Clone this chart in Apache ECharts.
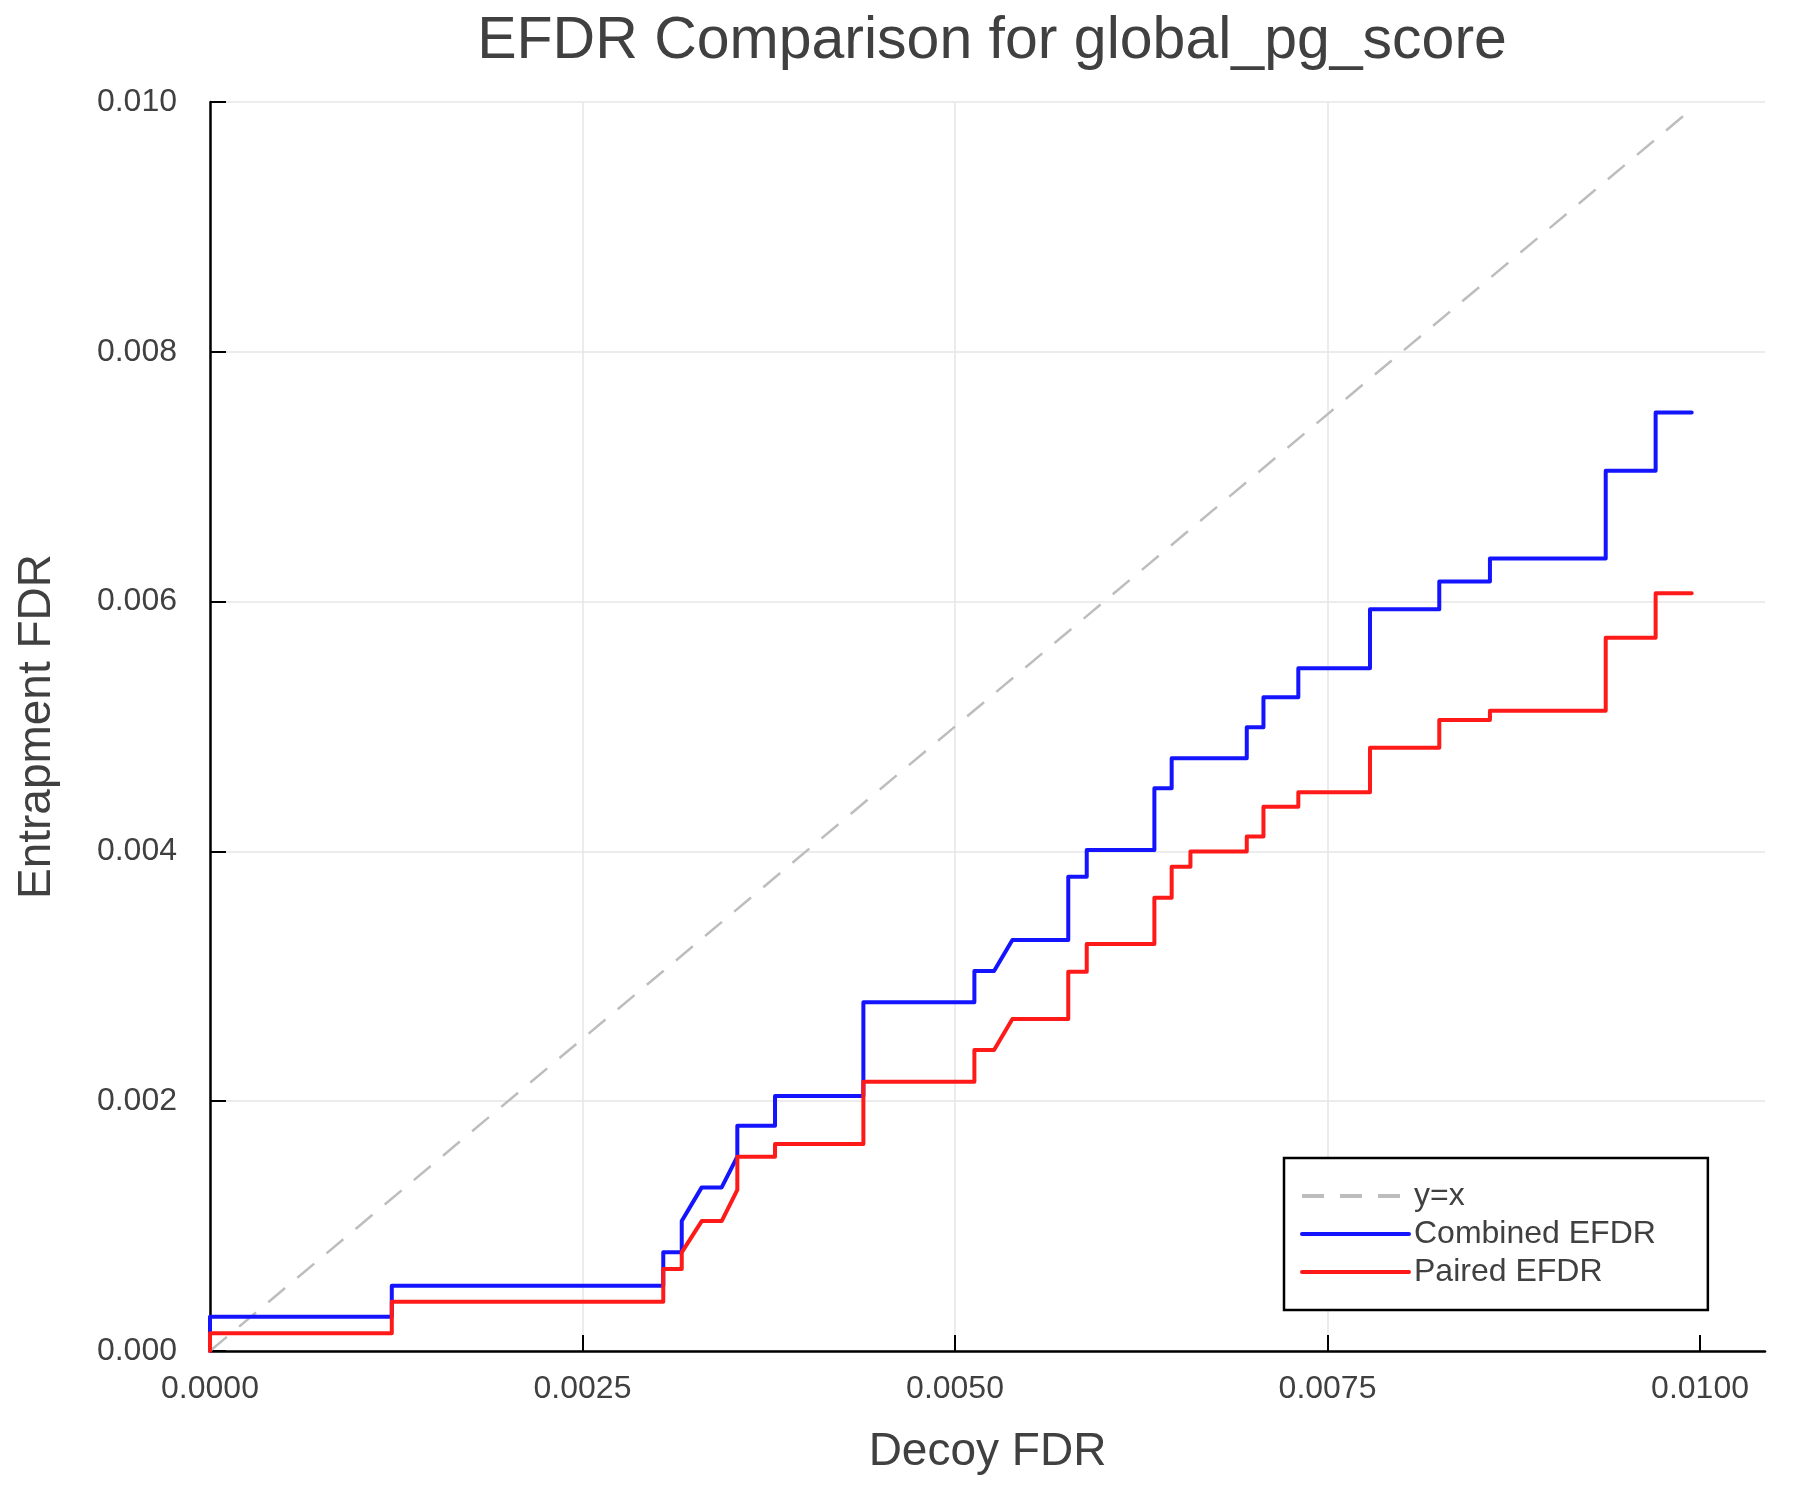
<!DOCTYPE html>
<html>
<head>
<meta charset="utf-8">
<title>EFDR Comparison</title>
<script src="https://cdn.jsdelivr.net/npm/echarts@6/dist/echarts.min.js"></script>
<style>
  html, body { margin: 0; padding: 0; background: #fff; }
  #chart { width: 1800px; height: 1500px; }
</style>
</head>
<body>
<div id="chart"></div>
<script>
// vertices of each curve
var diagX = [0, 0.009944];
var diagY = [0, 0.009944];

var combinedX = [0, 0, 0.00122, 0.00122, 0.003042, 0.003042, 0.003166, 0.003166, 0.0033, 0.003434,
    0.003539, 0.003539, 0.003792, 0.003792, 0.004385, 0.004385, 0.00513, 0.00513, 0.005262, 0.005385,
    0.00576, 0.00576, 0.005884, 0.005884, 0.006338, 0.006338, 0.006454, 0.006454, 0.006958, 0.006958,
    0.00707, 0.00707, 0.007304, 0.007304, 0.007785, 0.007785, 0.00825, 0.00825, 0.00859, 0.00859,
    0.009367, 0.009367, 0.009702, 0.009702, 0.009944];
var combinedY = [0, 0.000275, 0.000275, 0.000523, 0.000523, 0.00079, 0.00079, 0.00104, 0.00131, 0.00131,
    0.001556, 0.001804, 0.001804, 0.002042, 0.002042, 0.002792, 0.002792, 0.003042, 0.003042, 0.00329,
    0.00329, 0.003797, 0.003797, 0.004011, 0.004011, 0.004505, 0.004505, 0.004745, 0.004745, 0.004993,
    0.004993, 0.005234, 0.005234, 0.005466, 0.005466, 0.005938, 0.005938, 0.00616, 0.00616, 0.006346,
    0.006346, 0.007048, 0.007048, 0.007515, 0.007515];

var pairedX = [0, 0, 0.00122, 0.00122, 0.003042, 0.003042, 0.003166, 0.003166, 0.0033, 0.003434,
    0.003539, 0.003539, 0.003792, 0.003792, 0.004385, 0.004385, 0.00513, 0.00513, 0.005262, 0.005385,
    0.00576, 0.00576, 0.005884, 0.005884, 0.006338, 0.006338, 0.006454, 0.006454, 0.00658, 0.00658,
    0.006958, 0.006958, 0.00707, 0.00707, 0.007304, 0.007304, 0.007785, 0.007785, 0.00825, 0.00825,
    0.00859, 0.00859, 0.009367, 0.009367, 0.009702, 0.009702, 0.009944];
var pairedY = [0, 0.000142, 0.000142, 0.000395, 0.000395, 0.000656, 0.000656, 0.00079, 0.00104, 0.00104,
    0.00129, 0.001556, 0.001556, 0.001657, 0.001657, 0.002156, 0.002156, 0.00241, 0.00241, 0.002658,
    0.002658, 0.003037, 0.003037, 0.003259, 0.003259, 0.003628, 0.003628, 0.003878, 0.003878, 0.004,
    0.004, 0.00412, 0.00412, 0.004358, 0.004358, 0.004473, 0.004473, 0.00483, 0.00483, 0.005052,
    0.005052, 0.005127, 0.005127, 0.005711, 0.005711, 0.006066, 0.006066];

var xTicks = [0, 0.0025, 0.005, 0.0075, 0.01];

function pairUp(xs, ys) {
    var out = [];
    for (var i = 0; i < xs.length; i++) out.push([xs[i], ys[i]]);
    return out;
}

var textColor = '#404040';
var fontName = 'Liberation Sans';

var chart = echarts.init(document.getElementById('chart'), null, {renderer: 'canvas'});

var option = {
    backgroundColor: '#fff',
    animation: false,
    title: {
        text: 'EFDR Comparison for global_pg_score',
        left: 987,
        top: 7,
        textAlign: 'center',
        textStyle: {fontFamily: fontName, fontSize: 59, fontWeight: 'normal', color: textColor}
    },
    grid: {left: 210, right: 35, top: 102, bottom: 149, containLabel: false},
    legend: {
        orient: 'vertical',
        left: 1284,
        top: 1158,
        padding: [21, 52, 21, 16],
        itemWidth: 107,
        itemHeight: 14,
        itemGap: 4,
        borderColor: '#000',
        borderWidth: 2.5,
        backgroundColor: '#fff',
        itemStyle: {opacity: 0},
        lineStyle: {width: 4},
        textStyle: {fontFamily: fontName, fontSize: 32, lineHeight: 34, color: textColor},
        data: ['y=x', 'Combined EFDR', 'Paired EFDR']
    },
    xAxis: {
        type: 'value',
        min: 0,
        max: 0.010436,
        interval: 0.0025,
        name: 'Decoy FDR',
        nameLocation: 'middle',
        nameGap: 78,
        nameTextStyle: {fontFamily: fontName, fontSize: 46, color: textColor},
        axisLine: {show: true, onZero: false, lineStyle: {color: '#000', width: 2.5}},
        axisTick: {show: true, inside: true, length: 16, customValues: xTicks, lineStyle: {color: '#000', width: 2}},
        axisLabel: {
            customValues: xTicks,
            margin: 22,
            fontFamily: fontName, fontSize: 32, color: textColor,
            formatter: function (v) { return v.toFixed(4); }
        },
        splitLine: {show: true, showMaxLine: false, lineStyle: {color: '#e6e6e6', width: 1.5}}
    },
    yAxis: {
        type: 'value',
        min: 0,
        max: 0.01,
        interval: 0.002,
        name: 'Entrapment FDR',
        nameLocation: 'middle',
        nameGap: 150,
        nameTextStyle: {fontFamily: fontName, fontSize: 46, color: textColor},
        axisLine: {show: true, onZero: false, lineStyle: {color: '#000', width: 2.5}},
        axisTick: {show: true, inside: true, length: 16, lineStyle: {color: '#000', width: 2}},
        axisLabel: {
            margin: 33,
            fontFamily: fontName, fontSize: 32, color: textColor,
            formatter: function (v) { return v.toFixed(3); }
        },
        splitLine: {show: true, lineStyle: {color: '#e6e6e6', width: 1.5}}
    },
    series: [
        {
            name: 'y=x',
            type: 'line',
            symbol: 'none',
            color: '#bdbdbd',
            lineStyle: {color: '#bdbdbd', width: 2.5, type: [22, 16]},
            data: pairUp(diagX, diagY)
        },
        {
            name: 'Combined EFDR',
            type: 'line',
            symbol: 'none',
            color: '#1414ff',
            lineStyle: {color: '#1414ff', width: 4, join: 'round', cap: 'round'},
            data: pairUp(combinedX, combinedY)
        },
        {
            name: 'Paired EFDR',
            type: 'line',
            symbol: 'none',
            color: '#ff1a1a',
            lineStyle: {color: '#ff1a1a', width: 4, join: 'round', cap: 'round'},
            data: pairUp(pairedX, pairedY)
        }
    ]
};

chart.setOption(option);
</script>
</body>
</html>
